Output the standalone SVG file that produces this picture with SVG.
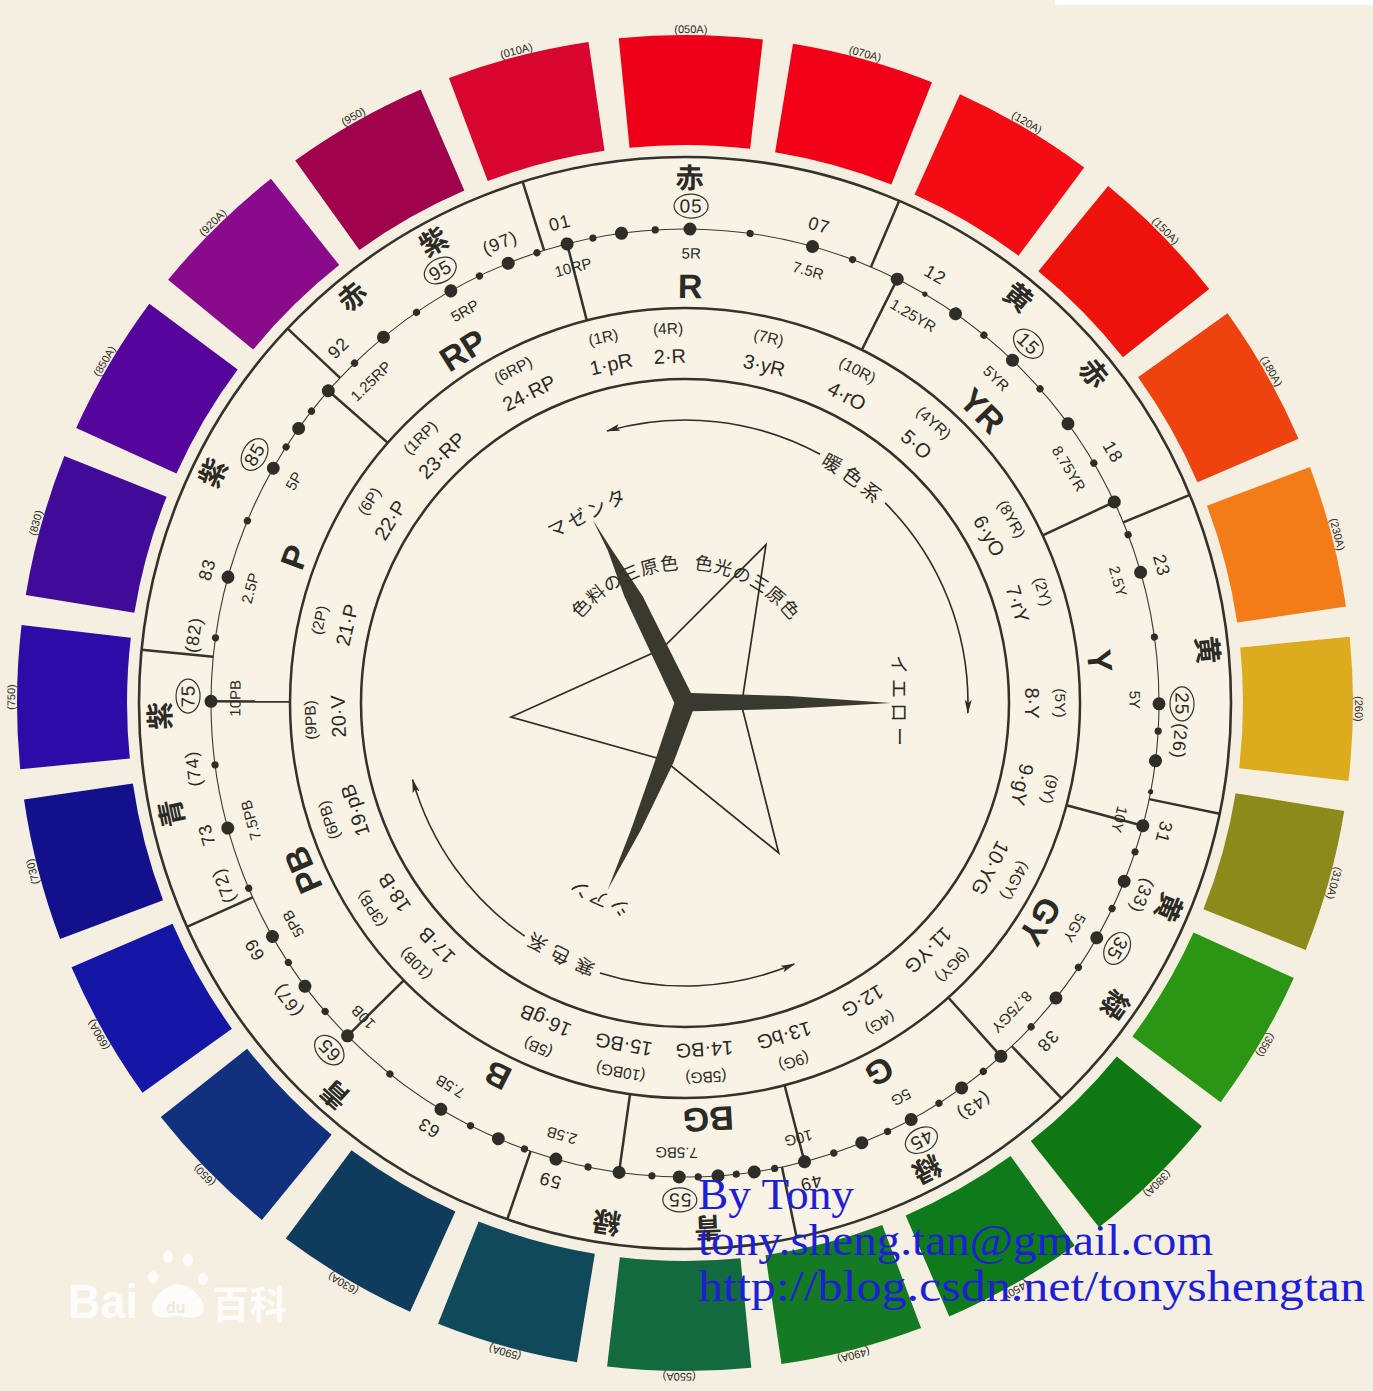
<svg xmlns="http://www.w3.org/2000/svg" width="1373" height="1391" viewBox="0 0 1373 1391">
<style>
text{font-family:"Liberation Sans",Arial,sans-serif;text-anchor:middle;dominant-baseline:central;fill:#2b2a25}
.sl{font-size:11px}
.jp{font-family:"Noto Sans CJK JP",sans-serif;font-size:28px;font-weight:700}
.cn{font-size:19px;letter-spacing:1px}
.nu{font-size:18px;letter-spacing:1px}
.mu{font-size:15px}
.hu{font-size:34px;font-weight:700}
.pa{font-size:15.5px}
.nm{font-size:20px}
.jt{font-family:"Noto Sans CJK JP",sans-serif;font-size:19px}
.wm{font-family:"Liberation Serif","Times New Roman",serif;text-anchor:start;dominant-baseline:alphabetic;fill:#1e1ed8;font-size:44px}
.ln{stroke:#34332d;stroke-width:2.5;fill:none}
.ov{fill:none;stroke:#34332d;stroke-width:1.2}
.bd{text-anchor:start;dominant-baseline:alphabetic;fill:#ffffff;font-weight:700}
</style>
<defs>
<path id="sw" d="M612.9,38.9 A668,668 0 0 1 757.1,38.9 L745.3,148.3 A558,558 0 0 0 624.7,148.3 Z"/>
<circle id="bdot" cx="685" cy="229" r="6.5" fill="#2e2d28"/>
<circle id="sdot" cx="685" cy="229" r="3.6" fill="#2e2d28"/>
<circle id="tdot" cx="685" cy="229" r="2.6" fill="#2e2d28"/>
<marker id="ah" viewBox="0 0 14 8" refX="13" refY="4" markerWidth="14" markerHeight="8" markerUnits="userSpaceOnUse" orient="auto">
<path d="M0,0.5 L14,4 L0,7.5 L3,4 Z" fill="#2e2d28"/>
</marker>
</defs>
<rect width="1373" height="1391" fill="#f5efe1"/>
<rect x="1055" y="0" width="318" height="5" fill="#ffffff"/>

<g id="swatches">
<use href="#sw" fill="#ef0019" transform="rotate(0.5 685 703)"/>
<use href="#sw" fill="#f10018" transform="rotate(15.5 685 703)"/>
<use href="#sw" fill="#f30c14" transform="rotate(30.5 685 703)"/>
<use href="#sw" fill="#ee120c" transform="rotate(45.5 685 703)"/>
<use href="#sw" fill="#ef430f" transform="rotate(60.5 685 703)"/>
<use href="#sw" fill="#f47c18" transform="rotate(75.5 685 703)"/>
<use href="#sw" fill="#dcab1e" transform="rotate(90.5 685 703)"/>
<use href="#sw" fill="#8b8a1a" transform="rotate(105.5 685 703)"/>
<use href="#sw" fill="#2b9614" transform="rotate(120.5 685 703)"/>
<use href="#sw" fill="#0f7813" transform="rotate(135.5 685 703)"/>
<use href="#sw" fill="#0e7a1b" transform="rotate(150.5 685 703)"/>
<use href="#sw" fill="#147a23" transform="rotate(165.5 685 703)"/>
<use href="#sw" fill="#146a3f" transform="rotate(180.5 685 703)"/>
<use href="#sw" fill="#104a5a" transform="rotate(195.5 685 703)"/>
<use href="#sw" fill="#0f3b5c" transform="rotate(210.5 685 703)"/>
<use href="#sw" fill="#11317e" transform="rotate(225.5 685 703)"/>
<use href="#sw" fill="#1616a6" transform="rotate(240.5 685 703)"/>
<use href="#sw" fill="#13108c" transform="rotate(255.5 685 703)"/>
<use href="#sw" fill="#2c0ca6" transform="rotate(270.5 685 703)"/>
<use href="#sw" fill="#420a98" transform="rotate(285.5 685 703)"/>
<use href="#sw" fill="#55059c" transform="rotate(300.5 685 703)"/>
<use href="#sw" fill="#890a8b" transform="rotate(315.5 685 703)"/>
<use href="#sw" fill="#a1024c" transform="rotate(330.5 685 703)"/>
<use href="#sw" fill="#d8062e" transform="rotate(345.5 685 703)"/>
</g>
<g id="swatch-labels">
<text class="sl" transform="rotate(0.5 685 703)" x="685" y="29">(050A)</text>
<text class="sl" transform="rotate(15.5 685 703)" x="685" y="29">(070A)</text>
<text class="sl" transform="rotate(30.5 685 703)" x="685" y="29">(120A)</text>
<text class="sl" transform="rotate(45.5 685 703)" x="685" y="29">(150A)</text>
<text class="sl" transform="rotate(60.5 685 703)" x="685" y="29">(180A)</text>
<text class="sl" transform="rotate(75.5 685 703)" x="685" y="29">(230A)</text>
<text class="sl" transform="rotate(90.5 685 703)" x="685" y="29">(260)</text>
<text class="sl" transform="rotate(105.5 685 703)" x="685" y="29">(310A)</text>
<text class="sl" transform="rotate(120.5 685 703)" x="685" y="29">(350)</text>
<text class="sl" transform="rotate(135.5 685 703)" x="685" y="29">(380A)</text>
<text class="sl" transform="rotate(150.5 685 703)" x="685" y="29">(450)</text>
<text class="sl" transform="rotate(165.5 685 703)" x="685" y="29">(490A)</text>
<text class="sl" transform="rotate(180.5 685 703)" x="685" y="29">(550A)</text>
<text class="sl" transform="rotate(195.5 685 703)" x="685" y="29">(590A)</text>
<text class="sl" transform="rotate(210.5 685 703)" x="685" y="29">(630A)</text>
<text class="sl" transform="rotate(225.5 685 703)" x="685" y="29">(650)</text>
<text class="sl" transform="rotate(240.5 685 703)" x="685" y="29">(690A)</text>
<text class="sl" transform="rotate(255.5 685 703)" x="685" y="29">(730)</text>
<text class="sl" transform="rotate(270.5 685 703)" x="685" y="29">(750)</text>
<text class="sl" transform="rotate(285.5 685 703)" x="685" y="29">(830)</text>
<text class="sl" transform="rotate(300.5 685 703)" x="685" y="29">(850A)</text>
<text class="sl" transform="rotate(315.5 685 703)" x="685" y="29">(920A)</text>
<text class="sl" transform="rotate(330.5 685 703)" x="685" y="29">(950)</text>
<text class="sl" transform="rotate(345.5 685 703)" x="685" y="29">(010A)</text>
</g>

<g id="disk">
<circle cx="685" cy="703" r="546" fill="#f8f3e5" stroke="#33322c" stroke-width="2.6"/>
<circle cx="685" cy="703" r="395" fill="none" stroke="#33322c" stroke-width="2.5"/>
<circle cx="685" cy="703" r="324" fill="none" stroke="#33322c" stroke-width="2.5"/>
<circle cx="685" cy="703" r="474" fill="none" stroke="#3a3932" stroke-width="1.1"/>
</g>

<g id="connectors">
<line class="ln" x1="685" y1="157" x2="685" y2="229" transform="rotate(-17.3 685 703)"/>
<line class="ln" x1="685" y1="157" x2="685" y2="229" transform="rotate(23.1 685 703)"/>
<line class="ln" x1="685" y1="157" x2="685" y2="229" transform="rotate(67.6 685 703)"/>
<line class="ln" x1="685" y1="157" x2="685" y2="229" transform="rotate(101.7 685 703)"/>
<line class="ln" x1="685" y1="157" x2="685" y2="229" transform="rotate(136.4 685 703)"/>
<line class="ln" x1="685" y1="157" x2="685" y2="229" transform="rotate(168.2 685 703)"/>
<line class="ln" x1="685" y1="157" x2="685" y2="229" transform="rotate(199 685 703)"/>
<line class="ln" x1="685" y1="157" x2="685" y2="229" transform="rotate(245.8 685 703)"/>
<line class="ln" x1="685" y1="157" x2="685" y2="229" transform="rotate(275.6 685 703)"/>
<line class="ln" x1="685" y1="157" x2="685" y2="229" transform="rotate(313.3 685 703)"/>
<line class="ln" x1="685" y1="229" x2="685" y2="308" transform="rotate(-14.4 685 703)"/>
<line class="ln" x1="685" y1="229" x2="685" y2="308" transform="rotate(26.6 685 703)"/>
<line class="ln" x1="685" y1="229" x2="685" y2="308" transform="rotate(64.9 685 703)"/>
<line class="ln" x1="685" y1="229" x2="685" y2="308" transform="rotate(105 685 703)"/>
<line class="ln" x1="685" y1="229" x2="685" y2="308" transform="rotate(138.2 685 703)"/>
<line class="ln" x1="685" y1="229" x2="685" y2="308" transform="rotate(165.4 685 703)"/>
<line class="ln" x1="685" y1="229" x2="685" y2="308" transform="rotate(188 685 703)"/>
<line class="ln" x1="685" y1="229" x2="685" y2="308" transform="rotate(225.4 685 703)"/>
<line class="ln" x1="685" y1="229" x2="685" y2="308" transform="rotate(270.2 685 703)"/>
<line class="ln" x1="685" y1="229" x2="685" y2="308" transform="rotate(311.2 685 703)"/>
<path d="M820.1,454.3 A283,283 0 0 0 607.0,431.0" fill="none" stroke="#2e2d28" stroke-width="1.6" marker-end="url(#ah)"/>
<path d="M885.1,502.9 A283,283 0 0 1 967.8,712.9" fill="none" stroke="#2e2d28" stroke-width="1.6" marker-end="url(#ah)"/>
<path d="M599.9,972.9 A283,283 0 0 0 794.2,964.1" fill="none" stroke="#2e2d28" stroke-width="1.6" marker-end="url(#ah)"/>
<path d="M524.7,936.2 A283,283 0 0 1 412.6,779.6" fill="none" stroke="#2e2d28" stroke-width="1.6" marker-end="url(#ah)"/>
</g>

<g id="dots">
<use href="#bdot" transform="rotate(345.6 685 703)"/>
<use href="#sdot" transform="rotate(348.8 685 703)"/>
<use href="#bdot" transform="rotate(352.3 685 703)"/>
<use href="#sdot" transform="rotate(356.4 685 703)"/>
<use href="#bdot" transform="rotate(0.6 685 703)"/>
<use href="#sdot" transform="rotate(7.9 685 703)"/>
<use href="#bdot" transform="rotate(15.6 685 703)"/>
<use href="#sdot" transform="rotate(20.7 685 703)"/>
<use href="#bdot" transform="rotate(26.6 685 703)"/>
<use href="#tdot" transform="rotate(30.4 685 703)"/>
<use href="#bdot" transform="rotate(34.8 685 703)"/>
<use href="#sdot" transform="rotate(39.1 685 703)"/>
<use href="#bdot" transform="rotate(43.7 685 703)"/>
<use href="#sdot" transform="rotate(48.5 685 703)"/>
<use href="#bdot" transform="rotate(53.9 685 703)"/>
<use href="#sdot" transform="rotate(59.6 685 703)"/>
<use href="#bdot" transform="rotate(64.9 685 703)"/>
<use href="#sdot" transform="rotate(69.2 685 703)"/>
<use href="#bdot" transform="rotate(74 685 703)"/>
<use href="#sdot" transform="rotate(82 685 703)"/>
<use href="#bdot" transform="rotate(90.1 685 703)"/>
<use href="#sdot" transform="rotate(93.4 685 703)"/>
<use href="#bdot" transform="rotate(97 685 703)"/>
<use href="#tdot" transform="rotate(100.8 685 703)"/>
<use href="#bdot" transform="rotate(105 685 703)"/>
<use href="#sdot" transform="rotate(108.3 685 703)"/>
<use href="#bdot" transform="rotate(112.1 685 703)"/>
<use href="#sdot" transform="rotate(115.7 685 703)"/>
<use href="#bdot" transform="rotate(119.7 685 703)"/>
<use href="#sdot" transform="rotate(123.9 685 703)"/>
<use href="#bdot" transform="rotate(128.5 685 703)"/>
<use href="#sdot" transform="rotate(133.1 685 703)"/>
<use href="#bdot" transform="rotate(138.2 685 703)"/>
<use href="#sdot" transform="rotate(141 685 703)"/>
<use href="#bdot" transform="rotate(144.3 685 703)"/>
<use href="#sdot" transform="rotate(147.6 685 703)"/>
<use href="#bdot" transform="rotate(151.5 685 703)"/>
<use href="#sdot" transform="rotate(154.7 685 703)"/>
<use href="#bdot" transform="rotate(158.1 685 703)"/>
<use href="#sdot" transform="rotate(161.7 685 703)"/>
<use href="#bdot" transform="rotate(165.4 685 703)"/>
<use href="#sdot" transform="rotate(169.1 685 703)"/>
<use href="#bdot" transform="rotate(171.6 685 703)"/>
<use href="#sdot" transform="rotate(173.8 685 703)"/>
<use href="#bdot" transform="rotate(176 685 703)"/>
<use href="#sdot" transform="rotate(178.4 685 703)"/>
<use href="#bdot" transform="rotate(180.7 685 703)"/>
<use href="#sdot" transform="rotate(184 685 703)"/>
<use href="#bdot" transform="rotate(188 685 703)"/>
<use href="#sdot" transform="rotate(191.8 685 703)"/>
<use href="#bdot" transform="rotate(195.8 685 703)"/>
<use href="#sdot" transform="rotate(199.8 685 703)"/>
<use href="#bdot" transform="rotate(203.2 685 703)"/>
<use href="#sdot" transform="rotate(206.9 685 703)"/>
<use href="#bdot" transform="rotate(211 685 703)"/>
<use href="#sdot" transform="rotate(218.5 685 703)"/>
<use href="#bdot" transform="rotate(225.4 685 703)"/>
<use href="#sdot" transform="rotate(229.4 685 703)"/>
<use href="#bdot" transform="rotate(233.3 685 703)"/>
<use href="#sdot" transform="rotate(236.8 685 703)"/>
<use href="#bdot" transform="rotate(240.5 685 703)"/>
<use href="#sdot" transform="rotate(247 685 703)"/>
<use href="#bdot" transform="rotate(254.7 685 703)"/>
<use href="#sdot" transform="rotate(262.5 685 703)"/>
<use href="#bdot" transform="rotate(270.2 685 703)"/>
<use href="#sdot" transform="rotate(277.9 685 703)"/>
<use href="#bdot" transform="rotate(285.4 685 703)"/>
<use href="#sdot" transform="rotate(292.6 685 703)"/>
<use href="#bdot" transform="rotate(299.7 685 703)"/>
<use href="#sdot" transform="rotate(302.7 685 703)"/>
<use href="#bdot" transform="rotate(305.4 685 703)"/>
<use href="#sdot" transform="rotate(308 685 703)"/>
<use href="#bdot" transform="rotate(311.2 685 703)"/>
<use href="#sdot" transform="rotate(315.8 685 703)"/>
<use href="#bdot" transform="rotate(320.5 685 703)"/>
<use href="#sdot" transform="rotate(325.5 685 703)"/>
<use href="#bdot" transform="rotate(330.4 685 703)"/>
<use href="#sdot" transform="rotate(334.3 685 703)"/>
<use href="#bdot" transform="rotate(338.1 685 703)"/>
<use href="#sdot" transform="rotate(341.8 685 703)"/>
</g>

<g id="color-names">
<text class="jp" transform="rotate(0.5 685 703)" x="685" y="176">赤</text>
<text class="jp" transform="rotate(39.4 685 703)" x="685" y="176">黄</text>
<text class="jp" transform="rotate(51.1 685 703)" x="685" y="176">赤</text>
<text class="jp" transform="rotate(84.2 685 703)" x="685" y="176">黄</text>
<text class="jp" transform="rotate(112.9 685 703)" x="685" y="176">黄</text>
<text class="jp" transform="rotate(125.1 685 703)" x="685" y="176">緑</text>
<text class="jp" transform="rotate(152.6 685 703)" x="685" y="176">緑</text>
<text class="jp" transform="rotate(177.5 685 703)" x="685" y="176">青</text>
<text class="jp" transform="rotate(188.6 685 703)" x="685" y="176">緑</text>
<text class="jp" transform="rotate(221.8 685 703)" x="685" y="176">青</text>
<text class="jp" transform="rotate(257.9 685 703)" x="685" y="176">青</text>
<text class="jp" transform="rotate(268.6 685 703)" x="685" y="176">紫</text>
<text class="jp" transform="rotate(296 685 703)" x="685" y="176">紫</text>
<text class="jp" transform="rotate(320.7 685 703)" x="685" y="176">赤</text>
<text class="jp" transform="rotate(331.4 685 703)" x="685" y="176">紫</text>
</g>

<g id="circled-numbers">
<g transform="rotate(0.7 685 703)"><ellipse class="ov" cx="685" cy="206" rx="17" ry="12"/><text class="cn" x="685" y="206">05</text></g>
<g transform="rotate(43.7 685 703)"><ellipse class="ov" cx="685" cy="206" rx="17" ry="12"/><text class="cn" x="685" y="206">15</text></g>
<g transform="rotate(90.1 685 703)"><ellipse class="ov" cx="685" cy="206" rx="17" ry="12"/><text class="cn" x="685" y="206">25</text></g>
<g transform="rotate(119.6 685 703)"><ellipse class="ov" cx="685" cy="206" rx="17" ry="12"/><text class="cn" x="685" y="206">35</text></g>
<g transform="rotate(151.6 685 703)"><ellipse class="ov" cx="685" cy="206" rx="17" ry="12"/><text class="cn" x="685" y="206">45</text></g>
<g transform="rotate(180.6 685 703)"><ellipse class="ov" cx="685" cy="206" rx="17" ry="12"/><text class="cn" x="685" y="206">55</text></g>
<g transform="rotate(225.7 685 703)"><ellipse class="ov" cx="685" cy="206" rx="17" ry="12"/><text class="cn" x="685" y="206">65</text></g>
<g transform="rotate(270.8 685 703)"><ellipse class="ov" cx="685" cy="206" rx="17" ry="12"/><text class="cn" x="685" y="206">75</text></g>
<g transform="rotate(300 685 703)"><ellipse class="ov" cx="685" cy="206" rx="17" ry="12"/><text class="cn" x="685" y="206">85</text></g>
<g transform="rotate(330.5 685 703)"><ellipse class="ov" cx="685" cy="206" rx="17" ry="12"/><text class="cn" x="685" y="206">95</text></g>
</g>

<g id="numbers">
<text class="nu" transform="rotate(345.4 685 703)" x="685" y="207">01</text>
<text class="nu" transform="rotate(15.7 685 703)" x="685" y="207">07</text>
<text class="nu" transform="rotate(30.3 685 703)" x="685" y="207">12</text>
<text class="nu" transform="rotate(59.6 685 703)" x="685" y="207">18</text>
<text class="nu" transform="rotate(73.9 685 703)" x="685" y="207">23</text>
<text class="nu" transform="rotate(94.4 685 703)" x="685" y="207">(26)</text>
<text class="nu" transform="rotate(105.1 685 703)" x="685" y="207">31</text>
<text class="nu" transform="rotate(112.9 685 703)" x="685" y="207">(33)</text>
<text class="nu" transform="rotate(133 685 703)" x="685" y="207">38</text>
<text class="nu" transform="rotate(144.4 685 703)" x="685" y="207">(43)</text>
<text class="nu" transform="rotate(165.3 685 703)" x="685" y="207">49</text>
<text class="nu" transform="rotate(195.8 685 703)" x="685" y="207">59</text>
<text class="nu" transform="rotate(211.1 685 703)" x="685" y="207">63</text>
<text class="nu" transform="rotate(233.2 685 703)" x="685" y="207">(67)</text>
<text class="nu" transform="rotate(240.2 685 703)" x="685" y="207">69</text>
<text class="nu" transform="rotate(248.4 685 703)" x="685" y="207">(72)</text>
<text class="nu" transform="rotate(254.6 685 703)" x="685" y="207">73</text>
<text class="nu" transform="rotate(262.4 685 703)" x="685" y="207">(74)</text>
<text class="nu" transform="rotate(277.9 685 703)" x="685" y="207">(82)</text>
<text class="nu" transform="rotate(285.6 685 703)" x="685" y="207">83</text>
<text class="nu" transform="rotate(315.7 685 703)" x="685" y="207">92</text>
<text class="nu" transform="rotate(338.1 685 703)" x="685" y="207">(97)</text>
</g>

<g id="munsell">
<text class="mu" transform="rotate(345.6 685 703)" x="685" y="253">10RP</text>
<text class="mu" transform="rotate(0.8 685 703)" x="685" y="253">5R</text>
<text class="mu" transform="rotate(15.9 685 703)" x="685" y="253">7.5R</text>
<text class="mu" transform="rotate(30.5 685 703)" x="685" y="253">1.25YR</text>
<text class="mu" transform="rotate(43.8 685 703)" x="685" y="253">5YR</text>
<text class="mu" transform="rotate(58.6 685 703)" x="685" y="253">8.75YR</text>
<text class="mu" transform="rotate(74.3 685 703)" x="685" y="253">2.5Y</text>
<text class="mu" transform="rotate(89.6 685 703)" x="685" y="253">5Y</text>
<text class="mu" transform="rotate(105 685 703)" x="685" y="253">10Y</text>
<text class="mu" transform="rotate(120 685 703)" x="685" y="253">5GY</text>
<text class="mu" transform="rotate(133.4 685 703)" x="685" y="253">8.75GY</text>
<text class="mu" transform="rotate(151.3 685 703)" x="685" y="253">5G</text>
<text class="mu" transform="rotate(165.4 685 703)" x="685" y="253">10G</text>
<text class="mu" transform="rotate(181.1 685 703)" x="685" y="253">7.5BG</text>
<text class="mu" transform="rotate(195.9 685 703)" x="685" y="253">2.5B</text>
<text class="mu" transform="rotate(211.5 685 703)" x="685" y="253">7.5B</text>
<text class="mu" transform="rotate(225.7 685 703)" x="685" y="253">10B</text>
<text class="mu" transform="rotate(240.6 685 703)" x="685" y="253">5PB</text>
<text class="mu" transform="rotate(254.9 685 703)" x="685" y="253">7.5PB</text>
<text class="mu" transform="rotate(270.6 685 703)" x="685" y="253">10PB</text>
<text class="mu" transform="rotate(284.8 685 703)" x="685" y="253">2.5P</text>
<text class="mu" transform="rotate(299.6 685 703)" x="685" y="253">5P</text>
<text class="mu" transform="rotate(315.7 685 703)" x="685" y="253">1.25RP</text>
<text class="mu" transform="rotate(330.7 685 703)" x="685" y="253">5RP</text>
</g>

<g id="hues">
<text class="hu" transform="rotate(0.7 685 703)" x="685" y="286">R</text>
<text class="hu" transform="rotate(45.5 685 703)" x="685" y="286">YR</text>
<text class="hu" transform="rotate(84.2 685 703)" x="685" y="286">Y</text>
<text class="hu" transform="rotate(121.6 685 703)" x="685" y="286">GY</text>
<text class="hu" transform="rotate(152.2 685 703)" x="685" y="286">G</text>
<text class="hu" transform="rotate(176.8 685 703)" x="685" y="286">BG</text>
<text class="hu" transform="rotate(206.7 685 703)" x="685" y="286">B</text>
<text class="hu" transform="rotate(246.4 685 703)" x="685" y="286">PB</text>
<text class="hu" transform="rotate(290.5 685 703)" x="685" y="286">P</text>
<text class="hu" transform="rotate(327.8 685 703)" x="685" y="286">RP</text>
</g>

<g id="pccs">
<text class="pa" transform="rotate(347.4 685 703)" x="685" y="328">(1R)</text>
<text class="nm" transform="rotate(347.7 685 703)" x="685" y="356">1·pR</text>
<text class="pa" transform="rotate(357.4 685 703)" x="685" y="328">(4R)</text>
<text class="nm" transform="rotate(357.5 685 703)" x="685" y="356">2·R</text>
<text class="pa" transform="rotate(12.9 685 703)" x="685" y="328">(7R)</text>
<text class="nm" transform="rotate(13.2 685 703)" x="685" y="356">3·yR</text>
<text class="pa" transform="rotate(27.4 685 703)" x="685" y="328">(10R)</text>
<text class="nm" transform="rotate(27.8 685 703)" x="685" y="356">4·rO</text>
<text class="pa" transform="rotate(41.6 685 703)" x="685" y="328">(4YR)</text>
<text class="nm" transform="rotate(41.8 685 703)" x="685" y="356">5·O</text>
<text class="pa" transform="rotate(60.6 685 703)" x="685" y="328">(8YR)</text>
<text class="nm" transform="rotate(61.2 685 703)" x="685" y="356">6·yO</text>
<text class="pa" transform="rotate(72.7 685 703)" x="685" y="328">(2Y)</text>
<text class="nm" transform="rotate(73.4 685 703)" x="685" y="356">7·rY</text>
<text class="pa" transform="rotate(90 685 703)" x="685" y="328">(5Y)</text>
<text class="nm" transform="rotate(90 685 703)" x="685" y="356">8·Y</text>
<text class="pa" transform="rotate(103.3 685 703)" x="685" y="328">(9Y)</text>
<text class="nm" transform="rotate(103.6 685 703)" x="685" y="356">9·gY</text>
<text class="pa" transform="rotate(118.3 685 703)" x="685" y="328">(4GY)</text>
<text class="nm" transform="rotate(118.4 685 703)" x="685" y="356">10·YG</text>
<text class="pa" transform="rotate(134.4 685 703)" x="685" y="328">(9GY)</text>
<text class="nm" transform="rotate(135.5 685 703)" x="685" y="356">11·YG</text>
<text class="pa" transform="rotate(148.6 685 703)" x="685" y="328">(4G)</text>
<text class="nm" transform="rotate(149.2 685 703)" x="685" y="356">12·G</text>
<text class="pa" transform="rotate(163.1 685 703)" x="685" y="328">(9G)</text>
<text class="nm" transform="rotate(163.4 685 703)" x="685" y="356">13·bG</text>
<text class="pa" transform="rotate(176.8 685 703)" x="685" y="328">(5BG)</text>
<text class="nm" transform="rotate(176.8 685 703)" x="685" y="356">14·BG</text>
<text class="pa" transform="rotate(189.9 685 703)" x="685" y="328">(10BG)</text>
<text class="nm" transform="rotate(190.2 685 703)" x="685" y="356">15·BG</text>
<text class="pa" transform="rotate(203.1 685 703)" x="685" y="328">(5B)</text>
<text class="nm" transform="rotate(203.7 685 703)" x="685" y="356">16·gB</text>
<text class="pa" transform="rotate(225.9 685 703)" x="685" y="328">(10B)</text>
<text class="nm" transform="rotate(225.7 685 703)" x="685" y="356">17·B</text>
<text class="pa" transform="rotate(236.7 685 703)" x="685" y="328">(3PB)</text>
<text class="nm" transform="rotate(236.9 685 703)" x="685" y="356">18·B</text>
<text class="pa" transform="rotate(251.8 685 703)" x="685" y="328">(6PB)</text>
<text class="nm" transform="rotate(252 685 703)" x="685" y="356">19·pB</text>
<text class="pa" transform="rotate(267.4 685 703)" x="685" y="328">(9PB)</text>
<text class="nm" transform="rotate(267.8 685 703)" x="685" y="356">20·V</text>
<text class="pa" transform="rotate(282.8 685 703)" x="685" y="328">(2P)</text>
<text class="nm" transform="rotate(283 685 703)" x="685" y="356">21·P</text>
<text class="pa" transform="rotate(302.6 685 703)" x="685" y="328">(6P)</text>
<text class="nm" transform="rotate(301.8 685 703)" x="685" y="356">22·P</text>
<text class="pa" transform="rotate(315.1 685 703)" x="685" y="328">(1RP)</text>
<text class="nm" transform="rotate(315.5 685 703)" x="685" y="356">23·RP</text>
<text class="pa" transform="rotate(332.7 685 703)" x="685" y="328">(6RP)</text>
<text class="nm" transform="rotate(333.3 685 703)" x="685" y="356">24·RP</text>
</g>

<g id="arc-labels">
<text class="jt" transform="rotate(31.5 685 703)" x="685" y="420">暖</text>
<text class="jt" transform="rotate(36.5 685 703)" x="685" y="420">色</text>
<text class="jt" transform="rotate(41.5 685 703)" x="685" y="420">系</text>
<text class="jt" transform="rotate(200.8 685 703)" x="685" y="420">寒</text>
<text class="jt" transform="rotate(206.3 685 703)" x="685" y="420">色</text>
<text class="jt" transform="rotate(211.7 685 703)" x="685" y="420">系</text>
</g>

<g id="star">
<polygon points="766,544.7 661.7,649 511,717 664,760 778.7,853 741.5,705" fill="none" stroke="#2e2d28" stroke-width="1.7" stroke-linejoin="miter"/>
<polygon points="592.7,519.7 612,549.7 642.7,596.3 691,693 789.3,696 891,703 789.3,708.7 692.7,711.3 673.3,763 641,829.7 607.7,889.7 631,829.7 654.3,763 674.3,703 624.3,596.3 607.7,550.3" fill="#3a392f"/>
</g>

<g id="center-labels">
<text class="jt" style="letter-spacing:3px" transform="rotate(-27 685 703)" x="685" y="488">マゼンタ</text>
<text class="jt" style="letter-spacing:5px" transform="rotate(90 685 703)" x="685" y="488">イエロー</text>
<text class="jt" style="letter-spacing:3px" transform="rotate(204 685 703)" x="685" y="488">シアン</text>
<text class="jt" style="font-size:18px" transform="rotate(-47.5 685 703)" x="685" y="561">色</text>
<text class="jt" style="font-size:18px" transform="rotate(-39.3 685 703)" x="685" y="561">料</text>
<text class="jt" style="font-size:18px" transform="rotate(-31.1 685 703)" x="685" y="561">の</text>
<text class="jt" style="font-size:18px" transform="rotate(-22.9 685 703)" x="685" y="561">三</text>
<text class="jt" style="font-size:18px" transform="rotate(-14.7 685 703)" x="685" y="561">原</text>
<text class="jt" style="font-size:18px" transform="rotate(-6.5 685 703)" x="685" y="561">色</text>
<text class="jt" style="font-size:18px" transform="rotate(7.7 685 703)" x="685" y="561">色</text>
<text class="jt" style="font-size:18px" transform="rotate(15.8 685 703)" x="685" y="561">光</text>
<text class="jt" style="font-size:18px" transform="rotate(23.9 685 703)" x="685" y="561">の</text>
<text class="jt" style="font-size:18px" transform="rotate(32 685 703)" x="685" y="561">三</text>
<text class="jt" style="font-size:18px" transform="rotate(40.1 685 703)" x="685" y="561">原</text>
<text class="jt" style="font-size:18px" transform="rotate(48.2 685 703)" x="685" y="561">色</text>
</g>

<g id="baidu" opacity="0.85">
<text class="bd" x="68" y="1318" style="font-size:48px" textLength="70" lengthAdjust="spacingAndGlyphs">Bai</text>
<ellipse cx="168" cy="1257" rx="5" ry="6.5" fill="#ffffff"/>
<ellipse cx="188" cy="1260" rx="5" ry="6.5" fill="#ffffff"/>
<ellipse cx="153" cy="1277" rx="5" ry="6" fill="#ffffff"/>
<ellipse cx="203" cy="1279" rx="5" ry="6" fill="#ffffff"/>
<path d="M178,1284 C190,1284 206,1300 204,1310 C202,1320 188,1318 178,1316 C168,1318 154,1320 152,1310 C150,1300 166,1284 178,1284 Z" fill="#ffffff"/>
<text class="bd" x="166" y="1313" style="font-size:16px;fill:#efe8d8">du</text>
<text class="bd" x="212" y="1318" style="font-family:'Noto Sans CJK SC',sans-serif;font-size:38px" textLength="75" lengthAdjust="spacingAndGlyphs">百科</text>
</g>

<g id="watermark">
<text class="wm" x="698" y="1209" textLength="156" lengthAdjust="spacingAndGlyphs">By Tony</text>
<text class="wm" x="698" y="1255" textLength="515" lengthAdjust="spacingAndGlyphs">tony.sheng.tan@gmail.com</text>
<text class="wm" x="698" y="1301" textLength="667" lengthAdjust="spacingAndGlyphs">http://blog.csdn.net/tonyshengtan</text>
</g>
</svg>
